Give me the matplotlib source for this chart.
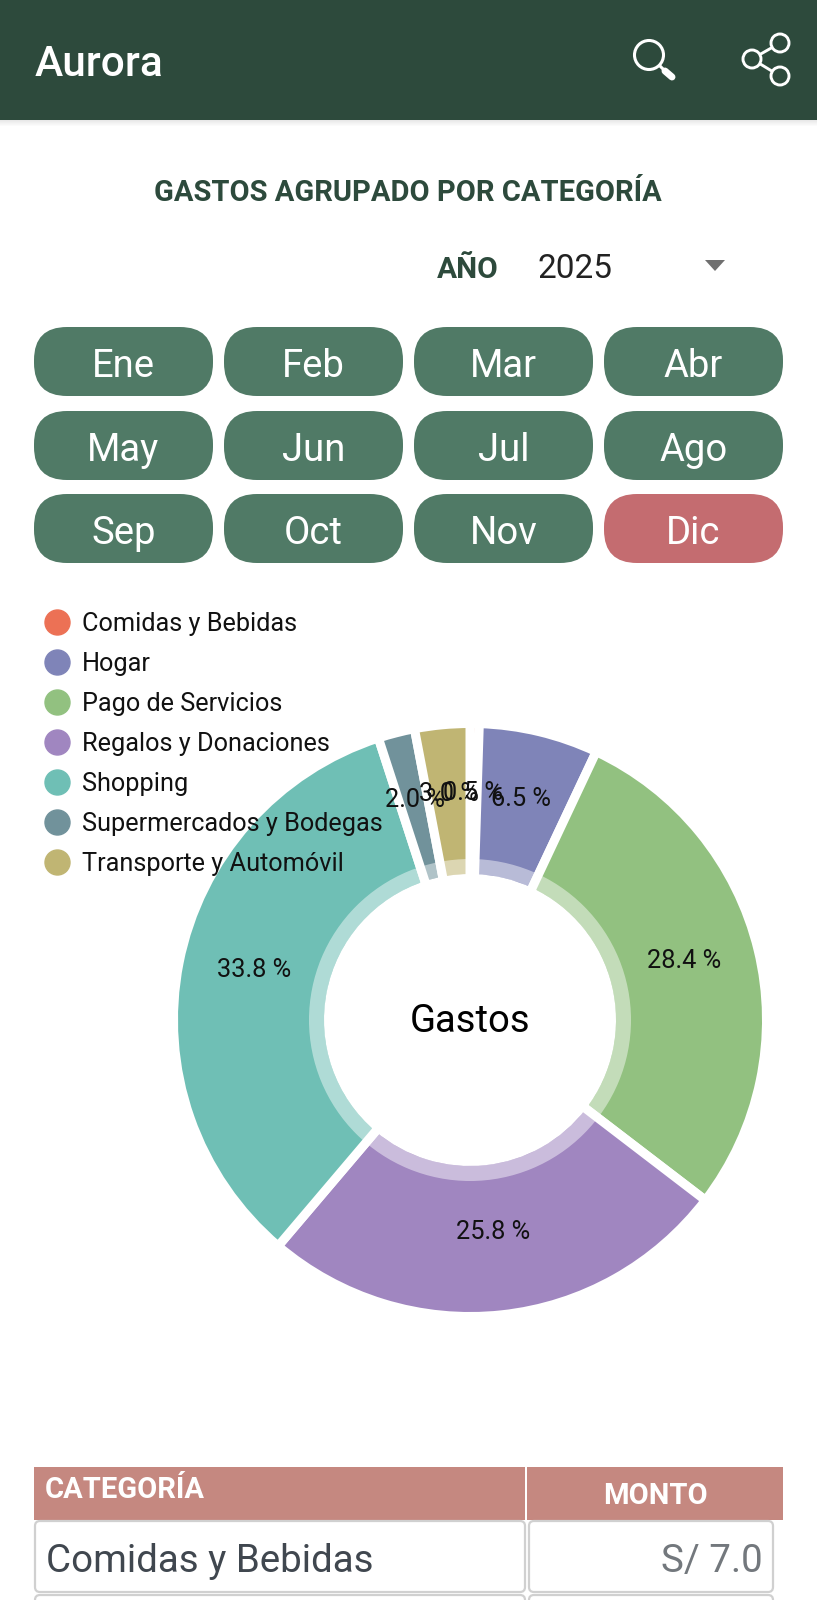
import matplotlib
matplotlib.use("Agg")
import matplotlib.pyplot as plt
from matplotlib.lines import Line2D
from matplotlib.patches import Circle, FancyBboxPatch, Polygon, Rectangle, Wedge

plt.rcParams['font.family'] = ['Roboto', 'DejaVu Sans']

# datos del grafico
categorias = ['Comidas y Bebidas', 'Hogar', 'Pago de Servicios', 'Regalos y Donaciones',
              'Shopping', 'Supermercados y Bodegas', 'Transporte y Automóvil']
porcentajes = [0.5, 6.5, 28.4, 25.8, 33.8, 2.0, 3.0]
colores = ['#EC7155', '#7F84B8', '#92C180', '#A086C0', '#6FBFB5', '#71929B', '#C0B573']
meses = ['Ene', 'Feb', 'Mar', 'Abr', 'May', 'Jun', 'Jul', 'Ago', 'Sep', 'Oct', 'Nov', 'Dic']
mes_activo = 'Dic'

W, H = 817, 1600
VERDE = '#2D4A3C'

fig = plt.figure(figsize=(W / 100, H / 100), dpi=100, facecolor='white')
ui = fig.add_axes([0, 0, 1, 1], zorder=0)
ui.set_xlim(0, W)
ui.set_ylim(H, 0)
ui.axis('off')

# barra superior
ui.add_patch(Rectangle((0, 0), W, 120, fc=VERDE, ec='none'))
for i in range(6):
    ui.add_patch(Rectangle((0, 120 + i), W, 1, fc='black', alpha=0.09 - i * 0.015, ec='none'))
ui.text(35, 64, 'Aurora', color='white', fontsize=30.5, fontweight='medium', va='center')

# lupa
ui.add_patch(Circle((649, 55), 14.5, fc='none', ec='white', lw=2.2))
ui.plot([660, 665], [66, 71], color='white', lw=2.2, solid_capstyle='round')
ui.plot([665, 672], [71, 77], color='white', lw=5, solid_capstyle='round')
# compartir
for px, py in [(752, 59), (780, 43), (780, 76)]:
    ui.add_patch(Circle((px, py), 9, fc=VERDE, ec='white', lw=2.1, zorder=3))
ui.plot([780, 752, 780], [43, 59, 76], color='white', lw=2.1, zorder=2)

# titulo y selector de anio
ui.text(408, 193, 'GASTOS AGRUPADO POR CATEGORÍA', color=VERDE, fontsize=21,
        fontweight='bold', ha='center', va='center')
ui.text(468, 270, 'AÑO', color=VERDE, fontsize=21.5, fontweight='bold', ha='center', va='center')
ui.text(538, 269, '2025', color='#222222', fontsize=24, va='center')
ui.add_patch(Polygon([(705, 260), (725, 260), (715, 271)], fc='#6F6F6F', ec='none'))

# botones de meses
xs = [34, 224, 414, 604]
ys = [327, 411, 494]
ancho, alto, rad = 179, 69, 33
for i, mes in enumerate(meses):
    x = xs[i % 4]
    y = ys[i // 4]
    col = '#C46C70' if mes == mes_activo else '#507A66'
    ui.add_patch(FancyBboxPatch((x + rad, y + rad), ancho - 2 * rad, alto - 2 * rad,
                                boxstyle='round,pad=%d,rounding_size=%d' % (rad, rad),
                                fc=col, ec='none'))
    ui.text(x + ancho / 2, y + alto / 2 + 5, mes, color='white', fontsize=27.5, ha='center', va='center')

# dona
R = 292
R_hueco = 146
R_claro = 161
BORDE = 9  # px
cx, cy = 470, 1020
R_out = R + BORDE / 2
lado = 2 * 1.25 * R_out
dona = fig.add_axes([(cx - lado / 2) / W, 1 - (cy + lado / 2) / H, lado / W, lado / H], zorder=1)
dona.patch.set_alpha(0)
wedges, _, pct = dona.pie(porcentajes, colors=colores, radius=1, startangle=90, counterclock=False,
                          autopct='%.1f %%', pctdistance=220 / R_out,
                          wedgeprops={'width': (R_out - R_hueco + BORDE / 2) / R_out,
                                      'edgecolor': 'white', 'linewidth': BORDE * 0.72})
for t in pct:
    t.set_fontsize(18.3)
    t.set_color('#111111')
    t.set_y(t.get_position()[1] + 7 / R_out)
dona.add_patch(Wedge((0, 0), R_claro / R_out, 0, 360, width=(R_claro - R_hueco) / R_out,
                     fc='white', alpha=0.45, lw=0))
dona.text(0, -2 / R_out, 'Gastos', fontsize=27.5, color='black', ha='center', va='center')

# leyenda
handles = [Line2D([], [], marker='o', linestyle='none', markersize=18, color=c, label=n)
           for c, n in zip(colores, categorias)]
fig.legend(handles=handles, loc='upper left', bbox_to_anchor=(32 / W, 1 - 612 / H), frameon=False,
           fontsize=18.2, labelspacing=0.63, handletextpad=-0.03, borderpad=0, borderaxespad=0,
           labelcolor='#111111')

# tabla
CAB = '#C58880'
ui.add_patch(Rectangle((34, 1467), 491, 53, fc=CAB, ec='none'))
ui.add_patch(Rectangle((527, 1467), 256, 53, fc=CAB, ec='none'))
ui.text(45, 1490, 'CATEGORÍA', color='white', fontsize=21, fontweight='bold', va='center')
ui.text(655, 1496, 'MONTO', color='white', fontsize=21, fontweight='bold', ha='center', va='center')
for x0, x1 in [(35, 525), (529, 773)]:
    for y0, y1 in [(1521, 1592), (1595, 1650)]:
        ui.add_patch(FancyBboxPatch((x0 + 5, y0 + 5), x1 - x0 - 10, y1 - y0 - 10,
                                    boxstyle='round,pad=5,rounding_size=5',
                                    fc='white', ec='#D0D0D0', lw=1.6))
ui.text(46, 1562, categorias[0], color='#40474F', fontsize=27.7, va='center')
ui.text(763, 1562, 'S/ 7.0', color='#73787D', fontsize=27.7, ha='right', va='center')

fig.savefig('out.png', dpi=100)
